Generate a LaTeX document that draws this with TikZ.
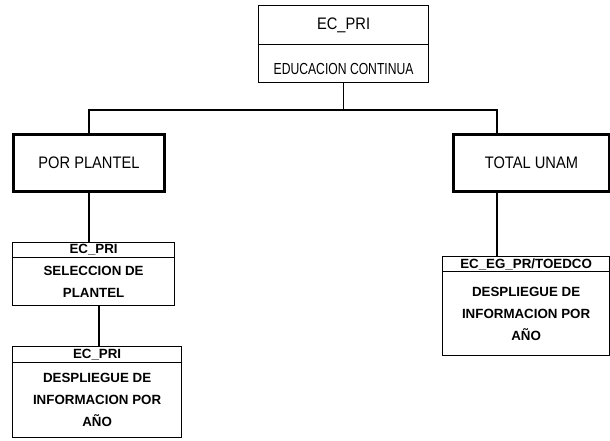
\documentclass[tikz,border=0pt]{standalone}
\usepackage{fontspec}
\setmainfont{Liberation Sans}
\newfontfamily\narrowsans[FakeStretch=0.88]{Liberation Sans}
\newfontfamily\condsans[FakeStretch=0.76]{Liberation Sans}

\begin{document}
\begin{tikzpicture}[x=0.75pt,y=0.75pt,yscale=-1,xscale=1,
    cell/.style={draw, line width=0.9pt, anchor=north west, inner sep=0pt, align=center},
    bigtext/.style={font=\narrowsans\fontsize{12.5}{14}\selectfont},
    smalltext/.style={font=\bfseries\fontsize{10}{16.5}\selectfont},
    mainbox/.style={cell, line width=2.2pt, bigtext},
    wire/.style={line width=0.9pt}]
    \useasboundingbox (0,0) rectangle (610,440);

    % top module
    \node [cell, bigtext, minimum width=127.5pt, minimum height=29.25pt] (ecpri) at (258,5) {EC\_PRI};
    \node [cell, minimum width=127.5pt, minimum height=28.5pt, font=\condsans\fontsize{12}{14}\selectfont, text height=16pt, text depth=0pt] (educ) at (258,44) {EDUCACION CONTINUA};

    % second level
    \node [mainbox, minimum width=113.25pt, minimum height=42.75pt] (plantel) at (12,133) {POR PLANTEL};
    \node [mainbox, minimum width=117pt, minimum height=42.75pt] (unam) at (452,133) {TOTAL UNAM};

    % left branch
    \node [cell, smalltext, minimum width=121.5pt, minimum height=11.25pt] (selhead) at (12,242) {EC\_PRI};
    \node [cell, smalltext, minimum width=121.5pt, minimum height=36pt] (selbody) at (12,257) {SELECCION DE\\PLANTEL};
    \node [cell, smalltext, minimum width=126.75pt, minimum height=12pt] (infhead) at (12,346) {EC\_PRI};
    \node [cell, smalltext, minimum width=126.75pt, minimum height=56.25pt] (infbody) at (12,362) {DESPLIEGUE DE\\INFORMACION POR\\AÑO};

    % right branch
    \node [cell, smalltext, minimum width=125.25pt, minimum height=11.25pt] (tohead) at (442,256) {EC\_EG\_PR/TOEDCO};
    \node [cell, smalltext, minimum width=125.25pt, minimum height=63pt] (tobody) at (442,271) {DESPLIEGUE DE\\INFORMACION POR\\AÑO};

    % connectors
    \coordinate (busL) at (89,110);
    \coordinate (busR) at (497,110);
    \coordinate (midL) at (99,0);
    \draw [wire] (educ.south) -- (educ.south |- busL);
    \draw [wire] (plantel.north -| busL) -- (busL) -- (busR) -- (unam.north -| busR);
    \draw [wire] (plantel.south -| busL) -- (selhead.north -| busL);
    \draw [wire] (selbody.south -| midL) -- (infhead.north -| midL);
    \draw [wire] (unam.south -| busR) -- (tohead.north -| busR);
\end{tikzpicture}
\end{document}
